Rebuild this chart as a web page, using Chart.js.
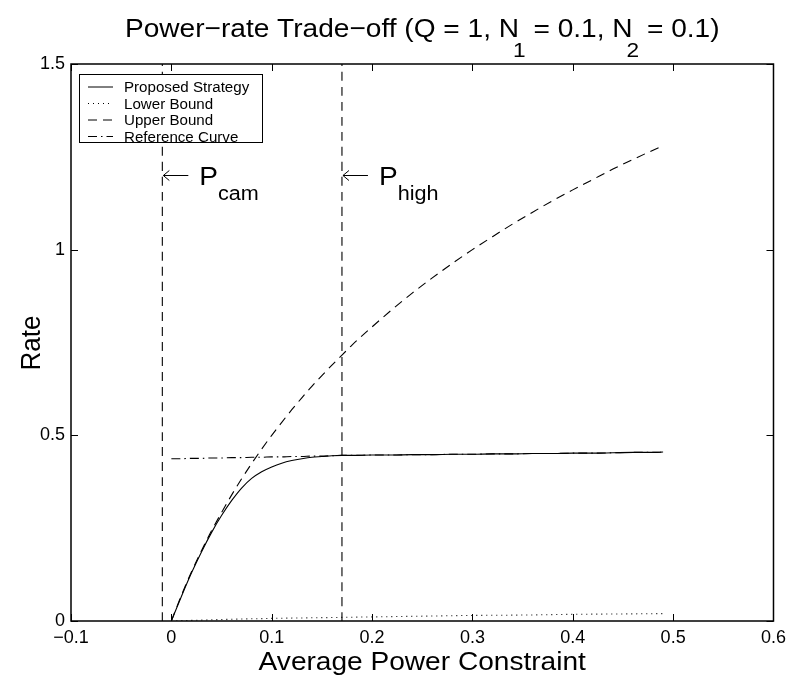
<!DOCTYPE html>
<html>
<head>
<meta charset="utf-8">
<script src="https://cdn.jsdelivr.net/npm/chart.js@4.4.0/dist/chart.umd.min.js"></script>
<style>
  html, body { margin: 0; padding: 0; background: #fff; }
  #wrap { width: 792px; height: 676px; }
</style>
</head>
<body>
<div id="wrap"><canvas id="myChart" width="792" height="676"></canvas></div>
<script>
// values
const powerValues = [
  0, 0.01, 0.02, 0.03, 0.04, 0.05, 0.06, 0.07, 0.08, 0.09,
  0.10, 0.11, 0.12, 0.13, 0.14, 0.15, 0.16, 0.17, 0.18, 0.20,
  0.22, 0.24, 0.26, 0.28, 0.30, 0.32, 0.34, 0.36, 0.38, 0.40,
  0.42, 0.44, 0.46, 0.48, 0.49
];
const proposedRate = [
  0, 0.066, 0.129, 0.186, 0.238, 0.284, 0.324, 0.358, 0.384, 0.402,
  0.415, 0.425, 0.432, 0.437, 0.441, 0.443, 0.445, 0.446, 0.446, 0.447,
  0.447, 0.448, 0.448, 0.449, 0.449, 0.450, 0.450, 0.451, 0.451, 0.452,
  0.452, 0.453, 0.454, 0.454, 0.455
];
const upperRate = [
  0, 0.069, 0.132, 0.189, 0.243, 0.292, 0.339, 0.383, 0.424, 0.463,
  0.500, 0.535, 0.569, 0.601, 0.632, 0.661, 0.689, 0.716, 0.743, 0.792,
  0.839, 0.883, 0.924, 0.963, 1.000, 1.035, 1.069, 1.101, 1.132, 1.161,
  1.189, 1.217, 1.243, 1.268, 1.280
];
const referenceRate = [
  0.437, 0.437, 0.438, 0.438, 0.439, 0.439, 0.440, 0.440, 0.441, 0.441,
  0.442, 0.442, 0.443, 0.443, 0.444, 0.444, 0.445, 0.446, 0.446, 0.447,
  0.447, 0.448, 0.448, 0.449, 0.449, 0.450, 0.450, 0.451, 0.451, 0.452,
  0.452, 0.453, 0.454, 0.454, 0.455
];
const lowerPower = [0, 0.05, 0.10, 0.15, 0.20, 0.25, 0.30, 0.35, 0.40, 0.45, 0.49];
const lowerRate = [0, 0.004, 0.007, 0.009, 0.011, 0.013, 0.015, 0.016, 0.018, 0.019, 0.020];

const pCam = -0.009;
const pHigh = 0.17;

const seriesNames = ["Proposed Strategy", "Lower Bound", "Upper Bound", "Reference Curve"];
const xTicks = [-0.1, 0, 0.1, 0.2, 0.3, 0.4, 0.5, 0.6];
const xTickLabels = ["\u22120.1", "0", "0.1", "0.2", "0.3", "0.4", "0.5", "0.6"];
const yTicks = [0, 0.5, 1, 1.5];
const yTickLabels = ["0", "0.5", "1", "1.5"];

const FONT = "'Liberation Sans', Arial, Helvetica, sans-serif";
const SX = 1.08; // reference text is a little wide

const toPoints = (xs, ys) => xs.map((x, i) => ({ x: x, y: ys[i] }));

const drawText = (ctx, text, x, y, size, align) => {
  ctx.save();
  ctx.font = size + "px " + FONT;
  ctx.textAlign = align || "left";
  ctx.textBaseline = "alphabetic";
  ctx.translate(x, y);
  ctx.scale(SX, 1);
  ctx.fillText(text, 0, 0);
  ctx.restore();
};

const textWidth = (ctx, text, size) => {
  ctx.save();
  ctx.font = size + "px " + FONT;
  const w = ctx.measureText(text).width * SX;
  ctx.restore();
  return w;
};

// box, inside ticks, legend, title and labels (MATLAB look)
const decorPlugin = {
  id: "decor",
  afterDraw(chart) {
    const ctx = chart.ctx;
    const area = chart.chartArea;
    const xs = chart.scales.x;
    const ys = chart.scales.y;

    ctx.save();
    ctx.strokeStyle = "#000";
    ctx.fillStyle = "#000";
    ctx.lineWidth = 1.5;
    ctx.strokeRect(area.left, area.top, area.right - area.left, area.bottom - area.top);

    ctx.lineWidth = 1;
    ctx.beginPath();
    xs.ticks.forEach(t => {
      const px = Math.round(xs.getPixelForValue(t.value)) + 0.5;
      ctx.moveTo(px, area.bottom); ctx.lineTo(px, area.bottom - 7);
      ctx.moveTo(px, area.top); ctx.lineTo(px, area.top + 7);
    });
    ys.ticks.forEach(t => {
      const py = Math.round(ys.getPixelForValue(t.value)) + 0.5;
      ctx.moveTo(area.left, py); ctx.lineTo(area.left + 7, py);
      ctx.moveTo(area.right, py); ctx.lineTo(area.right - 7, py);
    });
    ctx.stroke();

    // legend
    const lx = 79.5, ly = 74.5, lw = 183, lh = 68;
    ctx.fillStyle = "#fff";
    ctx.fillRect(lx, ly, lw, lh);
    ctx.lineWidth = 1;
    ctx.strokeStyle = "#000";
    ctx.strokeRect(lx, ly, lw, lh);
    ctx.fillStyle = "#000";
    seriesNames.forEach((name, i) => {
      const ds = chart.data.datasets[i];
      const cy = 87 + i * 16.5;
      ctx.save();
      ctx.setLineDash(ds.borderDash || []);
      ctx.lineWidth = 1;
      ctx.beginPath();
      ctx.moveTo(88, cy);
      ctx.lineTo(113, cy);
      ctx.stroke();
      ctx.restore();
      drawText(ctx, name, 124, cy + 5, 14);
    });

    // title with subscripts (the sub digit tucks under the N)
    const parts = [
      ["Power\u2212rate Trade\u2212off (Q = 1, N", false],
      ["1", true],
      [" = 0.1, N", false],
      ["2", true],
      [" = 0.1)", false]
    ];
    const subShift = 6;
    let total = 0;
    parts.forEach(p => { total += textWidth(ctx, p[0], p[1] ? 21 : 26) - (p[1] ? subShift : 0); });
    let cx = (area.left + area.right) / 2 - total / 2;
    parts.forEach(p => {
      if (p[1]) cx -= subShift;
      drawText(ctx, p[0], cx, p[1] ? 57 : 37, p[1] ? 21 : 26);
      cx += textWidth(ctx, p[0], p[1] ? 21 : 26);
    });

    // axis titles
    drawText(ctx, "Average Power Constraint", (area.left + area.right) / 2, 670, 26, "center");
    ctx.save();
    ctx.font = "26px " + FONT;
    ctx.textAlign = "center";
    ctx.translate(40, 343);
    ctx.scale(SX, 1);
    ctx.rotate(-Math.PI / 2);
    ctx.fillText("Rate", 0, 0);
    ctx.restore();

    // arrows pointing at the vertical lines
    [[pCam, "cam"], [pHigh, "high"]].forEach(a => {
      const x0 = xs.getPixelForValue(a[0]) + 1;
      const ay = 175.5;
      ctx.lineWidth = 1;
      ctx.beginPath();
      ctx.moveTo(x0, ay); ctx.lineTo(x0 + 25, ay);
      ctx.moveTo(x0 + 6, ay - 5); ctx.lineTo(x0, ay); ctx.lineTo(x0 + 6, ay + 5);
      ctx.stroke();
      const px = x0 + 36;
      drawText(ctx, "P", px, 185, 26);
      drawText(ctx, a[1], px + textWidth(ctx, "P", 26), 199.5, 20);
    });

    ctx.restore();
  }
};

const initChart = () => {
  const ctx = document.getElementById("myChart").getContext("2d");
  Chart.defaults.font.family = FONT;
  Chart.defaults.color = "#000";

  const lineStyle = {
    borderColor: "#000",
    borderWidth: 1.1,
    pointRadius: 0,
    fill: false,
    cubicInterpolationMode: "monotone"
  };

  new Chart(ctx, {
    type: "line",
    data: {
      datasets: [
        { ...lineStyle, label: seriesNames[0], data: toPoints(powerValues, proposedRate) },
        { ...lineStyle, label: seriesNames[1], data: toPoints(lowerPower, lowerRate), borderDash: [1, 4] },
        { ...lineStyle, label: seriesNames[2], data: toPoints(powerValues, upperRate), borderDash: [9, 6] },
        { ...lineStyle, label: seriesNames[3], data: toPoints(powerValues, referenceRate), borderDash: [9, 4, 1.5, 4] },
        { ...lineStyle, label: "P_cam", data: toPoints([pCam, pCam], [0, 1.5]), borderDash: [9, 6] },
        { ...lineStyle, label: "P_high", data: toPoints([pHigh, pHigh], [0, 1.5]), borderDash: [9, 6] }
      ]
    },
    options: {
      responsive: false,
      animation: false,
      devicePixelRatio: 1,
      layout: { padding: { left: 0, right: 15.5, top: 64, bottom: 0 } },
      plugins: {
        legend: { display: false },
        title: { display: false },
        tooltip: { enabled: false }
      },
      scales: {
        x: {
          type: "linear",
          min: -0.1,
          max: 0.6,
          afterBuildTicks: s => { s.ticks = xTicks.map(v => ({ value: v })); },
          afterFit: s => { s.height = 55; },
          grid: { display: false, drawTicks: false },
          border: { display: false },
          ticks: {
            font: { size: 18 },
            padding: 6,
            maxRotation: 0,
            callback: (v, i) => xTickLabels[i]
          }
        },
        y: {
          type: "linear",
          min: 0,
          max: 1.5,
          afterBuildTicks: s => { s.ticks = yTicks.map(v => ({ value: v })); },
          afterFit: s => { s.width = 71; },
          grid: { display: false, drawTicks: false },
          border: { display: false },
          ticks: {
            font: { size: 18 },
            padding: 6,
            callback: (v, i) => yTickLabels[i]
          }
        }
      }
    },
    plugins: [decorPlugin]
  });
};

document.addEventListener("DOMContentLoaded", initChart);
</script>
</body>
</html>
